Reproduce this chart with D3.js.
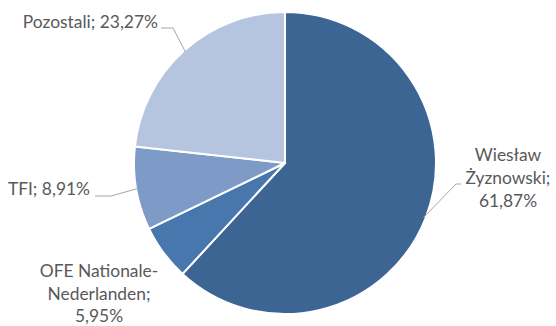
<!DOCTYPE html>
<html>
<head>
<meta charset="utf-8">
<script src="https://cdn.jsdelivr.net/npm/d3@7/dist/d3.min.js"></script>
<style>
  html, body { margin: 0; padding: 0; background: #fff; }
  svg text { font-family: Lato, "Open Sans", sans-serif; fill: #595959; }
</style>
</head>
<body>
<svg id="chart" width="556" height="326"></svg>
<script>
// shareholders, clockwise from 12 o'clock
const names = ['Wiesław Żyznowski', 'OFE Nationale-Nederlanden', 'TFI', 'Pozostali']
const shares = [61.87, 5.95, 8.91, 23.27]
const labelLines = [
  ['Wiesław', 'Żyznowski;', '61,87%'],
  ['OFE Nationale-', 'Nederlanden;', '5,95%'],
  ['TFI; 8,91%'],
  ['Pozostali; 23,27%']
]
const colors = ['#3c6594', '#4877ae', '#7e9bc8', '#b6c5df']

const cx = 285, cy = 163, r = 151

// label layout: text anchor point, line step, leader elbow (null = no leader)
const layout = [
  { x: 508, y: 161, step: 23, anchor: 'middle', elbow: [456, 184], end: [461, 184] },
  { x: 99, y: 277, step: 22.5, anchor: 'middle', elbow: null },
  { x: 90, y: 195, step: 23, anchor: 'end', elbow: [111, 196], end: [95, 196] },
  { x: 158, y: 27.5, step: 23, anchor: 'end', elbow: [173, 28], end: [161, 28] }
]

const data = names.map((n, i) => ({ name: n, value: shares[i], i }))
const svg = d3.select('#chart')
const g = svg.append('g').attr('transform', `translate(${cx},${cy})`)

const pie = d3.pie().value(d => d.value).sort(null)
const arc = d3.arc().innerRadius(0).outerRadius(r)
const arcs = pie(data)

g.selectAll('path.slice')
  .data(arcs)
  .enter().append('path')
  .attr('class', 'slice')
  .attr('d', arc)
  .attr('fill', d => colors[d.data.i])
  .attr('stroke', '#fff')
  .attr('stroke-width', 2)
  .attr('stroke-linejoin', 'round')

// leader lines from slice edge midpoint
const edge = d3.arc().innerRadius(r - 2).outerRadius(r - 2)
arcs.forEach(d => {
  const L = layout[d.data.i]
  if (!L.elbow) return
  const c = edge.centroid(d)
  const pts = [[c[0] + cx, c[1] + cy], L.elbow, L.end]
  svg.append('path')
    .attr('d', d3.line()(pts))
    .attr('fill', 'none')
    .attr('stroke', '#a6a6a6')
    .attr('stroke-width', 1)
})

// labels
arcs.forEach(d => {
  const L = layout[d.data.i]
  const t = svg.append('text')
    .attr('x', L.x).attr('y', L.y)
    .attr('text-anchor', L.anchor)
    .style('font-size', '17.4px')
  labelLines[d.data.i].forEach((line, k) => {
    t.append('tspan').attr('x', L.x).attr('dy', k === 0 ? 0 : L.step).text(line)
  })
})
</script>
</body>
</html>
